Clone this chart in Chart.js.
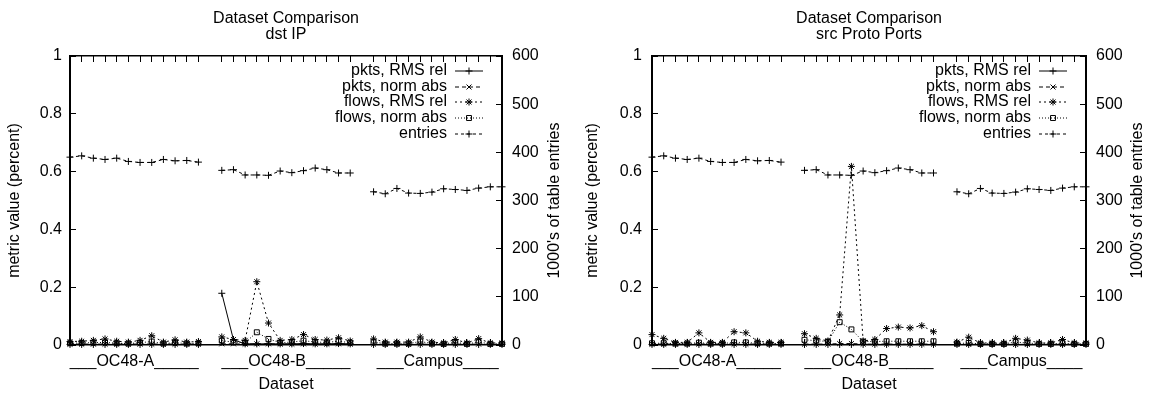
<!DOCTYPE html>
<html><head><meta charset="utf-8">
<script src="https://cdn.jsdelivr.net/npm/chart.js@4.4.1/dist/chart.umd.min.js"></script>
<style>
html,body{margin:0;padding:0;background:#fff;}
#wrap{position:relative;width:1151px;height:398px;overflow:hidden;}
.panel{position:absolute;top:0;height:398px;}
#p1{left:0;width:575px;}
#p2{left:575px;width:576px;}
</style></head><body>
<div id="wrap"><div class="panel" id="p1"><canvas id="c1"></canvas></div><div class="panel" id="p2"><canvas id="c2"></canvas></div></div>
<script>
// ---------- data ----------
const groups = ['OC48-A', 'OC48-B', 'Campus'];
const groupTickLabels = ['___OC48-A_____', '___OC48-B_____', '___Campus____'];
const runsPerGroup = 12;
const seriesLabels = ['pkts, RMS rel', 'pkts, norm abs', 'flows, RMS rel', 'flows, norm abs', 'entries'];
const panelTitles = [['Dataset Comparison', 'dst IP'], ['Dataset Comparison', 'src Proto Ports']];
const yTicksLeft = [0, 0.2, 0.4, 0.6, 0.8, 1];
const yTicksRight = [0, 100, 200, 300, 400, 500, 600];
const xTitle = 'Dataset';
const yLeftTitle = 'metric value (percent)';
const yRightTitle = "1000's of table entries";

// entries (thousands) - same runs in both panels
const entries = [
  390.0, 392.7, 387.9, 385.2, 387.9, 381.1, 379.0, 379.0, 385.2, 382.4, 383.1, 379.7,
  362.6, 364.0, 353.0, 353.0, 352.3, 361.2, 357.8, 361.9, 367.4, 364.0, 357.1, 357.1,
  318.1, 314.0, 325.0, 315.4, 314.7, 317.4, 324.3, 322.9, 320.9, 325.7, 328.4, 328.4
];

// dst IP panel
const dstPktsRms = [
  0.002, 0.002, 0.002, 0.002, 0.002, 0.002, 0.002, 0.002, 0.002, 0.002, 0.002, 0.002,
  0.179, 0.018, 0.004, 0.004, 0.004, 0.004, 0.004, 0.005, 0.004, 0.004, 0.005, 0.004,
  0.002, 0.002, 0.002, 0.002, 0.002, 0.002, 0.002, 0.002, 0.002, 0.002, 0.002, 0.002
];
const dstPktsNorm = [
  0.003, 0.003, 0.003, 0.003, 0.003, 0.003, 0.003, 0.003, 0.003, 0.003, 0.003, 0.003,
  0.004, 0.004, 0.003, 0.004, 0.004, 0.003, 0.003, 0.004, 0.003, 0.003, 0.004, 0.003,
  0.003, 0.002, 0.002, 0.002, 0.003, 0.002, 0.002, 0.003, 0.002, 0.003, 0.002, 0.002
];
const dstFlowsRms = [
  0.012, 0.013, 0.016, 0.021, 0.013, 0.010, 0.016, 0.032, 0.010, 0.018, 0.010, 0.012,
  0.028, 0.019, 0.016, 0.219, 0.076, 0.016, 0.019, 0.036, 0.019, 0.017, 0.025, 0.014,
  0.021, 0.010, 0.010, 0.010, 0.028, 0.010, 0.007, 0.019, 0.007, 0.022, 0.007, 0.007
];
const dstFlowsNorm = [
  0.006, 0.007, 0.008, 0.009, 0.006, 0.005, 0.008, 0.012, 0.005, 0.008, 0.005, 0.006,
  0.015, 0.010, 0.008, 0.044, 0.021, 0.008, 0.010, 0.015, 0.010, 0.009, 0.013, 0.008,
  0.010, 0.005, 0.005, 0.005, 0.012, 0.005, 0.004, 0.009, 0.004, 0.010, 0.004, 0.004
];

// src Proto Ports panel
const srcPktsRms = [
  0.002, 0.002, 0.002, 0.002, 0.002, 0.002, 0.002, 0.002, 0.002, 0.002, 0.002, 0.002,
  0.002, 0.002, 0.002, 0.002, 0.002, 0.002, 0.002, 0.002, 0.002, 0.002, 0.002, 0.002,
  0.002, 0.002, 0.002, 0.002, 0.002, 0.002, 0.002, 0.002, 0.002, 0.002, 0.002, 0.002
];
const srcPktsNorm = [
  0.003, 0.003, 0.003, 0.003, 0.003, 0.003, 0.003, 0.003, 0.003, 0.003, 0.003, 0.003,
  0.003, 0.003, 0.003, 0.005, 0.005, 0.003, 0.003, 0.003, 0.003, 0.003, 0.003, 0.003,
  0.002, 0.002, 0.002, 0.002, 0.002, 0.002, 0.002, 0.002, 0.002, 0.002, 0.002, 0.002
];
const srcFlowsRms = [
  0.036, 0.023, 0.009, 0.009, 0.042, 0.009, 0.009, 0.046, 0.042, 0.013, 0.009, 0.009,
  0.039, 0.023, 0.014, 0.104, 0.618, 0.014, 0.019, 0.057, 0.062, 0.059, 0.067, 0.046,
  0.010, 0.027, 0.007, 0.007, 0.007, 0.023, 0.017, 0.007, 0.007, 0.019, 0.007, 0.007
];
const srcFlowsNorm = [
  0.006, 0.006, 0.005, 0.005, 0.008, 0.005, 0.005, 0.009, 0.009, 0.006, 0.005, 0.005,
  0.018, 0.015, 0.012, 0.079, 0.054, 0.012, 0.012, 0.013, 0.013, 0.013, 0.013, 0.013,
  0.005, 0.007, 0.004, 0.004, 0.004, 0.010, 0.007, 0.004, 0.004, 0.006, 0.004, 0.004
];

// ---------- helpers ----------
const FONT = '"Liberation Sans", Arial, Helvetica, sans-serif';
Chart.defaults.font.family = FONT;
Chart.defaults.font.size = 16;
Chart.defaults.color = '#000';

const slot = runsPerGroup + 1;
const xMax = groups.length * slot - 2;
const dataXs = [];
groups.forEach((g, gi) => { for (let i = 0; i < runsPerGroup; i++) dataXs.push(gi * slot + i); });
const centerXs = groups.map((g, gi) => gi * slot + (runsPerGroup - 1) / 2);
const centerLabel = {};
centerXs.forEach((c, i) => { centerLabel[c] = groupTickLabels[i]; });

function toPoints(values) {
  const pts = [];
  groups.forEach((g, gi) => {
    for (let i = 0; i < runsPerGroup; i++) pts.push({x: gi * slot + i, y: values[gi * runsPerGroup + i]});
    if (gi < groups.length - 1) pts.push({x: gi * slot + runsPerGroup, y: null});
  });
  return pts;
}

const styles = [
  {dash: [], pt: 'cross', r: 3.5},
  {dash: [4, 3], pt: 'crossRot', r: 3.5},
  {dash: [2, 3], pt: 'star', r: 3.5},
  {dash: [1, 2], pt: 'rect', r: 3.5},
  {dash: [3, 3], pt: 'cross', r: 3.5}
];
const legendRows = [15, 31, 46, 62, 78];

function drawMarker(ctx, style, r, x, y) {
  ctx.beginPath();
  if (style === 'cross' || style === 'star') {
    ctx.moveTo(x - r, y); ctx.lineTo(x + r, y); ctx.moveTo(x, y - r); ctx.lineTo(x, y + r);
  }
  if (style === 'crossRot' || style === 'star') {
    const d = r * Math.SQRT1_2;
    ctx.moveTo(x - d, y - d); ctx.lineTo(x + d, y + d); ctx.moveTo(x - d, y + d); ctx.lineTo(x + d, y - d);
  }
  if (style === 'rect') {
    const s = r * Math.SQRT1_2;
    ctx.rect(x - s, y - s, 2 * s, 2 * s);
  }
  ctx.stroke();
}

const gpLegend = {
  id: 'gpLegend',
  afterDatasetsDraw(chart) {
    const {ctx, chartArea} = chart;
    ctx.save();
    ctx.font = '16px ' + FONT;
    ctx.textAlign = 'right';
    ctx.textBaseline = 'middle';
    chart.data.datasets.forEach((ds, i) => {
      const y = chartArea.top + legendRows[i];
      ctx.fillStyle = '#000';
      ctx.fillText(ds.label, chartArea.right - 55, y);
      const x1 = chartArea.right - 47, x2 = chartArea.right - 19;
      ctx.strokeStyle = '#000';
      ctx.lineWidth = 1;
      ctx.setLineDash(ds.borderDash);
      ctx.beginPath(); ctx.moveTo(x1, y); ctx.lineTo(x2, y); ctx.stroke();
      ctx.setLineDash([]);
      drawMarker(ctx, ds.pointStyle, ds.pointRadius, (x1 + x2) / 2, y);
    });
    ctx.restore();
  }
};

const rightTitle = {
  id: 'rightTitle',
  afterDraw(chart, args, opts) {
    const {ctx, chartArea} = chart;
    ctx.save();
    ctx.font = '16px ' + FONT;
    ctx.fillStyle = '#000';
    ctx.textAlign = 'center';
    ctx.textBaseline = 'middle';
    ctx.translate(chartArea.right + opts.offset, (chartArea.top + chartArea.bottom) / 2);
    ctx.rotate(-Math.PI / 2);
    ctx.fillText(opts.text, 0, 0);
    ctx.restore();
  }
};

function makeChart(canvasId, title, series, L) {
  const datasets = series.map((vals, k) => ({
    label: seriesLabels[k],
    data: toPoints(vals),
    yAxisID: k === 4 ? 'y2' : 'y',
    borderColor: '#000',
    backgroundColor: 'rgba(0,0,0,0)',
    borderWidth: 1,
    borderDash: styles[k].dash,
    pointStyle: styles[k].pt,
    pointRadius: styles[k].r,
    pointBorderColor: '#000',
    pointBackgroundColor: 'rgba(0,0,0,0)',
    pointBorderWidth: 1,
    tension: 0,
    spanGaps: false,
    clip: false
  }));
  return new Chart(document.getElementById(canvasId), {
    type: 'line',
    data: {datasets},
    plugins: [gpLegend, rightTitle],
    options: {
      responsive: true,
      maintainAspectRatio: false,
      animation: false,
      events: [],
      layout: {padding: 0},
      plugins: {
        legend: {display: false},
        tooltip: {enabled: false},
        title: {display: true, text: title, color: '#000', fullSize: false,
          font: {size: 16, weight: 'normal', lineHeight: 1.0}, padding: {top: 11, bottom: 13}},
        rightTitle: {text: yRightTitle, offset: L.rTitle}
      },
      scales: {
        x: {
          type: 'linear', position: 'bottom', min: 0, max: xMax,
          afterBuildTicks: s => { s.ticks = dataXs.concat(centerXs).sort((a, b) => a - b).map(v => ({value: v})); },
          afterFit: s => { s.height = 53; },
          ticks: {autoSkip: false, maxRotation: 0, minRotation: 0, padding: 13, color: '#000',
            callback: v => centerLabel[v] !== undefined ? centerLabel[v] : ''},
          grid: {drawOnChartArea: false, drawTicks: true, tickLength: -6, tickWidth: 1,
            tickColor: c => (c.tick && centerLabel[c.tick.value] !== undefined) ? 'rgba(0,0,0,0)' : '#000'},
          border: {display: true, color: '#000', width: 1.5},
          title: {display: true, text: xTitle, color: '#000', padding: {top: 0, bottom: 4}}
        },
        xTop: {
          type: 'linear', position: 'top', min: 0, max: xMax,
          afterBuildTicks: s => { s.ticks = dataXs.map(v => ({value: v})); },
          afterFit: s => { s.height = 0; },
          ticks: {display: false},
          grid: {drawOnChartArea: false, drawTicks: true, tickLength: -6, tickWidth: 1, tickColor: '#000'},
          border: {display: true, color: '#000', width: 1.5}
        },
        y: {
          type: 'linear', position: 'left', min: 0, max: 1,
          afterBuildTicks: s => { s.ticks = yTicksLeft.map(v => ({value: v})); },
          afterFit: s => { s.width = L.left; },
          ticks: {color: '#000', padding: L.lpad, callback: v => String(v)},
          grid: {drawOnChartArea: false, drawTicks: true, tickLength: -6, tickWidth: 1, tickColor: '#000'},
          border: {display: true, color: '#000', width: 2},
          title: {display: true, text: yLeftTitle, color: '#000', padding: {top: L.ltitle, bottom: 0}}
        },
        y2: {
          type: 'linear', position: 'right', min: 0, max: 600,
          afterBuildTicks: s => { s.ticks = yTicksRight.map(v => ({value: v})); },
          afterFit: s => { s.width = L.right; },
          ticks: {color: '#000', padding: 16, callback: v => String(v)},
          grid: {drawOnChartArea: false, drawTicks: true, tickLength: -6, tickWidth: 1, tickColor: '#000'},
          border: {display: true, color: '#000', width: 2}
        }
      }
    }
  });
}

makeChart('c1', panelTitles[0], [dstPktsRms, dstPktsNorm, dstFlowsRms, dstFlowsNorm, entries],
  {left: 70, right: 73, lpad: 14, ltitle: 5, rTitle: 53});
makeChart('c2', panelTitles[1], [srcPktsRms, srcPktsNorm, srcFlowsRms, srcFlowsNorm, entries],
  {left: 77, right: 65, lpad: 16, ltitle: 8, rTitle: 52});
</script>
</body></html>
